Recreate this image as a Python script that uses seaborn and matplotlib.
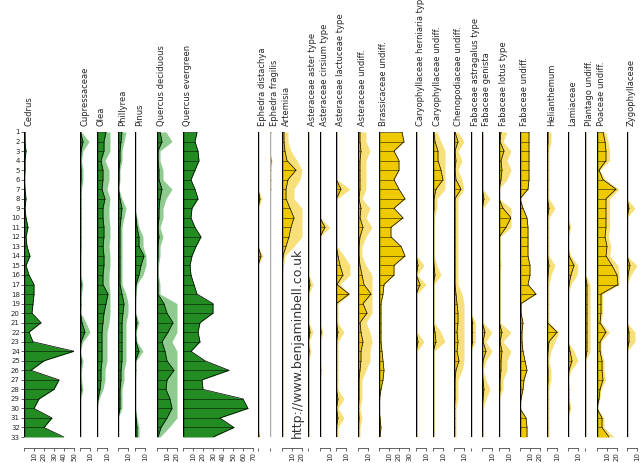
import numpy as np
import pandas as pd
import matplotlib
matplotlib.use("Agg")
import matplotlib.pyplot as plt
import seaborn as sns

samples = list(range(1, 34))

cedrus = [1,1,2,1,1,0.5,1,2,1,2,4,2,3,6,2,5,10,10,9,8,17,5,9,50,20,7,35,30,15,10,28,20,40]
cupressaceae = [0.5,3,1,0.5,1,1,0.5,0.5,0.5,0.5,0.5,0.5,0.5,0.3,0.3,0.3,1,0.5,0.5,0.3,2,5,1,0,1,0.5,0.5,1,0.2,0.2,0.2,0.2,0.2]
olea = [9,7,7,4,6,6,5,8,6,6,7,7,6,7,7,6,6,11,9,7,6,5,5,5,5,4,4,3,1,0,0,0,0]
phillyrea = [4,3,2,2,1,1,0.5,2,4,3,2,2,2,2,2,2,2,4,6,5,4,4,4,4,4,3,3,2,2,2,0,0,0]
pinus = [0,0,0,0,0,0,0,0,0,1,2,4,4,9,6,4,1,0.5,0.3,0.3,2,0.5,1,4,0.5,0.5,0.3,0.3,0.3,0.3,1,2,2]
q_deciduous = [3,5,1,1,2,2,5,3,2,2,1,2,1,1,0.5,0.5,1,1,7,10,16,11,5,8,10,17,10,9,13,15,10,4,1]
q_evergreen = [14,12,15,16,12,8,12,15,9,8,12,18,13,9,7,8,11,14,30,30,17,15,17,8,22,46,19,20,60,65,37,51,30]
eph_distachya = [0,0,0,0,0,0,0,2,0,0,0,0,0,3,0,0,0,0,0,0,0,0,0,0,0,0,0,0,0,0,0,0,1]
eph_fragilis = [0.5,0,0,1,0.5,0.5,0.5,0,0,0,0,0,0,0.3,0,0,0,0,0,0,0,0,0,0,0,0,0,0,0,0,0,0,0]
artemisia = [2,2,3,5,14,6,4,4,8,12,9,7,4,1,0.5,0.3,0.3,0.3,0.3,0.3,0.3,0.3,0.3,0.3,0.3,0.3,0.3,0.3,0.3,0.3,0.3,0.3,0.3]
ast_aster = [0.3,0.3,0.3,0.3,0.3,0.3,0.3,0.3,0.3,0.3,0.3,0.3,0.3,0.3,0.3,0.3,2,0.3,0.3,0.3,0.3,2,0.3,1,0.3,0.3,0.3,0.3,0.3,0.3,0.3,0.3,0.3]
ast_cirsium = [0,0,0,0,0,0,0,0,0,0,5,0,0,0,0,0,0,0,0,0,0,1,0,0,0,0.5,0,0,0,0,0,0,0]
ast_lactuceae = [0.3,0.3,0.3,0.3,0.3,0.3,5,0.3,0.3,0.3,0.3,0.3,0.3,2,4,7,1,13,0.5,0.5,0.5,2,0.5,0.5,0.5,0.5,0.5,0.5,2,0.5,2,0.5,0.5]
ast_undiff = [2,2,3,2,2,2,2,1,3,2,5,2,1,1,2,4,6,13,5,9,2,3,5,3,3,2,1,1,1,0.5,1,0.5,0.5]
brassicaceae = [23,25,15,20,20,15,20,26,15,24,12,12,22,26,15,15,5,4,2,2,2,2,2,3,4,5,4,2,0.5,0,1,2,1]
car_herniaria = [0.3,0.3,0.3,0.3,0.3,0.3,0.3,0.3,0.3,0.3,0.3,0.3,0.3,0.3,2,0.3,4,0.3,0.3,0.3,0.3,0.3,2,0.3,0.3,0.3,0.3,0.3,0.3,0.3,0.3,0.3,0.3]
car_undiff = [1,2,5,5,8,10,3,1,1,0.3,0.3,0.3,0.3,0.3,1,2,0.3,0.3,0.3,0.3,0.3,2,3,0.3,0.3,0.3,0.3,0.3,0.3,0.3,0.3,0.3,0.3]
chenopodiaceae = [1,4,1,2,1,2,7,1,1,1,1,1,1,1,1,1,1,2,3,4,4,3,4,3,5,2,1,1,1,0.5,0.5,0.5,0.5]
fab_astragalus = [0,0,0,0,0,0,0,0,0,0,0,0,0,0,0,0,0,0,0,0,1.5,1.5,1.5,0,0,0,0,0,0,0,0,0,0]
fab_genista = [0.3,0.3,0.3,0.3,0.3,0.3,0.3,2,0.3,0.3,0.3,0.3,0.3,0.3,0.3,0.3,0.3,0.3,0.3,0.3,0.3,3,1,4,1,0.3,1,2,1,0.3,0.3,0.3,0.3]
fab_lotus = [2,1,5,2,3,2,0,0,4,12,7,0.3,0.3,0.3,0.5,0.3,0.3,0.3,0.3,0.3,0.3,3,1,3,2,2,1,1,0,0,0,0,0]
fab_undiff = [9,9,9,9,9,9,8,0,3,7,8,8,8,8,10,10,8,16,1,1,3,2,2,3,5,7,4,3,1,0,6,7,7]
helianthemum = [1,1,0.5,0.5,0.5,0.5,0.5,0.5,2,0.5,0.5,0.5,0.5,0.5,2,1,0.5,0.5,0.5,0.5,0.5,10,2,1,0.5,1,1,0.5,0.5,0.5,0.5,0.5,0.5]
lamiaceae = [0,0,0,0,0,0,0,0,0,0,1,0,0,1,6,3,1,0,0,0,0,0,0,2,4,1,0,0.5,0.5,1,0,0,0]
plantago = [0.3,0.3,0.3,0.3,0.3,0.3,0.3,0.3,0.3,0.3,0.3,0.3,0.3,0.3,0.3,0.3,2,2,2,2,2,2,2,2,0.3,0.3,0.3,0.3,0.3,0.3,0.3,0.3,0.3]
poaceae = [6,8,9,9,2,6,19,9,9,9,9,8,10,9,15,20,21,4,4,4,3,9,3,3,5,5,6,3,2,0,5,5,12]
zygophyllaceae = [0,0,0,0,0,0,0,0,2,0,0,0,0,0,3,1,0,0,0,0,0,2,2,0,0,0,0,0,0,0,0,0,0]

# name, values, left pixel, xmax, ticks, group, exaggeration
taxa = [
    ("Cedrus", cedrus, 24, 50, [10,20,30,40,50], "t", 1),
    ("Cupressaceae", cupressaceae, 80, 10, [10], "t", 3),
    ("Olea", olea, 97, 13, [10], "t", 2),
    ("Phillyrea", phillyrea, 118, 10, [10], "t", 2),
    ("Pinus", pinus, 135, 11, [10], "t", 2),
    ("Quercus deciduous", q_deciduous, 157, 20, [10,20], "t", 3),
    ("Quercus evergreen", q_evergreen, 183, 72, [10,20,30,40,50,60,70], "t", 1),
    ("Ephedra distachya", eph_distachya, 258, 5, [], "h", 2),
    ("Ephedra fragilis", eph_fragilis, 270, 5, [], "h", 2),
    ("Artemisia", artemisia, 282, 20, [10,20], "h", 3),
    ("Asteraceae aster type", ast_aster, 308, 5, [], "h", 3),
    ("Asteraceae cirsium type", ast_cirsium, 320, 10, [10], "h", 3),
    ("Asteraceae lactuceae type", ast_lactuceae, 336, 14, [10], "h", 4),
    ("Asteraceae undiff.", ast_undiff, 358, 14, [10], "h", 4),
    ("Brassicaceae undiff.", brassicaceae, 379, 30, [10,20,30], "h", 1),
    ("Caryophyllaceae herniaria type", car_herniaria, 416, 10, [10], "h", 4),
    ("Caryophyllaceae undiff.", car_undiff, 433, 12, [10], "h", 4),
    ("Chenopodiaceae undiff.", chenopodiaceae, 454, 10, [10], "h", 4),
    ("Fabaceae astragalus type", fab_astragalus, 471, 5, [], "h", 3),
    ("Fabaceae genista", fab_genista, 482, 10, [10], "h", 4),
    ("Fabaceae lotus type", fab_lotus, 499, 12, [10], "h", 4),
    ("Fabaceae undiff.", fab_undiff, 520, 20, [10,20], "h", 1),
    ("Helianthemum", helianthemum, 547, 12, [10], "h", 4),
    ("Lamiaceae", lamiaceae, 568, 10, [10], "h", 3),
    ("Plantago undiff.", plantago, 585, 5, [], "h", 3),
    ("Poaceae undiff.", poaceae, 597, 22, [10,20], "h", 1.4),
    ("Zygophyllaceae", zygophyllaceae, 627, 10, [10], "h", 4),
]

sns.set_style("white")
W, H = 640, 463
fig = plt.figure(figsize=(6.4, 4.63), dpi=100)
top_px, bot_px = 132, 437
colors = {"t": ("#228B22", "#8FCB8F"), "h": ("#EEC900", "#F7E07A")}

for i, (name, vals, left, xmax, ticks, grp, exag) in enumerate(taxa):
    xm = max(xmax, 5)
    ax = fig.add_axes([left / W, 1 - bot_px / H, xm / W, (bot_px - top_px) / H])
    dark, light = colors[grp]
    v = np.array(vals, dtype=float)
    y = np.array(samples)
    if exag > 1:
        ex = np.minimum(v * exag, xm)
        ax.fill_betweenx(y, 0, ex, color=light, lw=0, clip_on=False)
    ax.fill_betweenx(y, 0, v, color=dark, lw=0)
    ax.hlines(y, 0, v, color="black", lw=0.5, alpha=0.7)
    df = pd.DataFrame({"v": v, "s": y})
    sns.lineplot(data=df, x="v", y="s", orient="y", sort=False, color="black", lw=0.5, ax=ax, estimator=None)
    ax.axvline(0, color="black" if v.max() > 1 else "#aaaaaa", lw=1)
    ax.set_xlim(0, xm)
    ax.set_ylim(33, 1)
    ax.set_xlabel(""); ax.set_ylabel("")
    for s in ["top", "right", "left"]:
        ax.spines[s].set_visible(False)
    ax.spines["bottom"].set_position(("outward", 8))
    ax.spines["bottom"].set_linewidth(0.5)
    ax.spines["bottom"].set_bounds(0, max(ticks) if ticks else 0.01)
    ax.set_xticks([0] + ticks)
    ax.set_xticklabels([""] + [str(t) for t in ticks], rotation=90, fontsize=5)
    ax.tick_params(axis="x", length=2, width=0.5, pad=1, bottom=True)
    if i == 0:
        ax.set_yticks(samples)
        ax.set_yticklabels([str(s) for s in samples], fontsize=5)
        ax.tick_params(axis="y", length=2, width=0.5, pad=1, left=True)
    else:
        ax.set_yticks([])
    ax.set_facecolor("none")
    ax.text(0, 1.02, name, transform=ax.get_xaxis_transform(), rotation=90,
            ha="left", va="bottom", fontsize=6, clip_on=False)

fig.text(297 / W, 1 - 438 / H, "http://www.benjaminbell.co.uk", rotation=90,
         fontsize=9, color="#333333", ha="center", va="bottom")
fig.savefig("out.png", dpi=100)
